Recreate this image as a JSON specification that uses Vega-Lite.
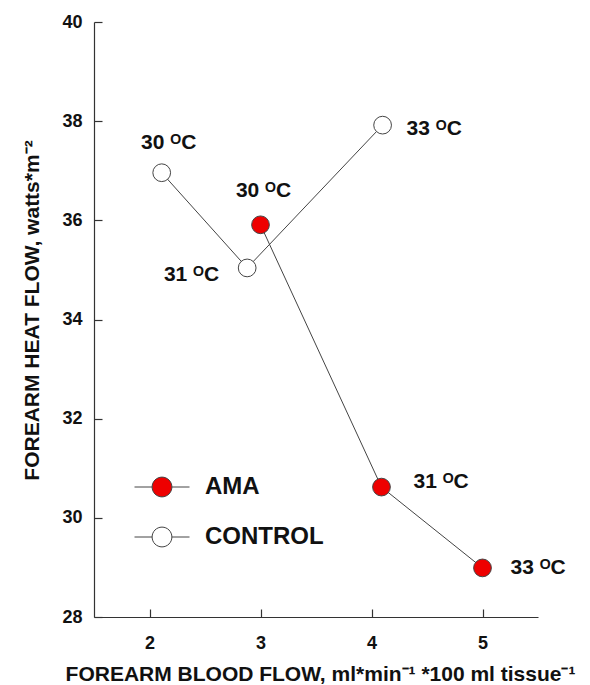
{
  "$schema": "https://vega.github.io/schema/vega-lite/v6.json",
  "width": 444,
  "height": 595,
  "autosize": {"type": "none"},
  "padding": {"left": 94, "top": 22, "right": 52, "bottom": 68},
  "background": "white",
  "config": {
    "view": {"stroke": null},
    "font": "Liberation Sans",
    "axis": {"grid": false, "domainColor": "#333", "tickColor": "#333", "labelColor": "#111", "titleColor": "#111", "labelFontWeight": "bold", "titleFontWeight": "bold", "labelFontSize": 18, "titleFontSize": 21, "tickSize": -8, "domainWidth": 1.2, "tickWidth": 1.2}
  },
  "data": {
    "values": [
      {"group": "CONTROL", "x": 2.11, "y": 36.96, "label": "30 ᴼC", "id": "c30"},
      {"group": "CONTROL", "x": 2.88, "y": 35.04, "label": "31 ᴼC", "id": "c31"},
      {"group": "CONTROL", "x": 4.1, "y": 37.92, "label": "33 ᴼC", "id": "c33"},
      {"group": "AMA", "x": 3.0, "y": 35.91, "label": "30 ᴼC", "id": "a30"},
      {"group": "AMA", "x": 4.09, "y": 30.62, "label": "31 ᴼC", "id": "a31"},
      {"group": "AMA", "x": 5.0, "y": 28.99, "label": "33 ᴼC", "id": "a33"}
    ]
  },
  "encoding": {
    "x": {"field": "x", "type": "quantitative", "scale": {"domain": [1.5, 5.5], "nice": false, "zero": false},
      "axis": {"values": [2, 3, 4, 5], "title": "FOREARM BLOOD FLOW, ml*min⁻¹ *100 ml tissue⁻¹", "labelPadding": 25, "titleX": 226, "titleY": 63, "titleBaseline": "alphabetic", "titleAnchor": "middle"}},
    "y": {"field": "y", "type": "quantitative", "scale": {"domain": [28, 40], "nice": false, "zero": false},
      "axis": {"values": [28, 30, 32, 34, 36, 38, 40], "title": "FOREARM HEAT FLOW, watts*m⁻²", "labelPadding": 20, "titleX": -56, "titleY": 288, "titleBaseline": "alphabetic", "titleAngle": -90, "titleAlign": "center"}}
  },
  "layer": [
    {"mark": {"type": "line", "color": "#444", "strokeWidth": 1}, "encoding": {"detail": {"field": "group"}, "order": {"field": "x"}}},
    {"mark": {"type": "point", "shape": "circle", "filled": true, "size": 314, "stroke": "#444", "strokeWidth": 1, "opacity": 1},
      "encoding": {"fill": {"field": "group", "type": "nominal", "scale": {"domain": ["AMA", "CONTROL"], "range": ["#ee0000", "#ffffff"]},
        "legend": {"orient": "none", "legendX": 40, "legendY": 437, "title": null, "padding": 0, "columns": 1,
          "symbolType": "M -1 0 L -0.36 0 M 0.36 0 L 1 0 M -0.36 0 A 0.36 0.36 0 1 0 0.36 0 A 0.36 0.36 0 1 0 -0.36 0 Z",
          "symbolSize": 3025, "symbolStrokeColor": "#444", "symbolStrokeWidth": 1, "symbolOpacity": 1,
          "labelFont": "Liberation Sans", "labelFontSize": 24, "labelFontWeight": "bold", "labelColor": "#111", "labelOffset": 15, "rowPadding": 10}}}},
    {"transform": [{"filter": "datum.id === 'c30'"}], "mark": {"type": "text", "dx": 7, "dy": -30, "align": "center", "baseline": "middle", "fontSize": 21, "fontWeight": "bold", "color": "#111"}, "encoding": {"text": {"field": "label"}}},
    {"transform": [{"filter": "datum.id === 'a30'"}], "mark": {"type": "text", "dx": 3, "dy": -34, "align": "center", "baseline": "middle", "fontSize": 21, "fontWeight": "bold", "color": "#111"}, "encoding": {"text": {"field": "label"}}},
    {"transform": [{"filter": "datum.id === 'c31'"}], "mark": {"type": "text", "dx": -28, "dy": 7, "align": "right", "baseline": "middle", "fontSize": 21, "fontWeight": "bold", "color": "#111"}, "encoding": {"text": {"field": "label"}}},
    {"transform": [{"filter": "datum.id === 'c33'"}], "mark": {"type": "text", "dx": 24, "dy": 4, "align": "left", "baseline": "middle", "fontSize": 21, "fontWeight": "bold", "color": "#111"}, "encoding": {"text": {"field": "label"}}},
    {"transform": [{"filter": "datum.id === 'a31'"}], "mark": {"type": "text", "dx": 32, "dy": -5, "align": "left", "baseline": "middle", "fontSize": 21, "fontWeight": "bold", "color": "#111"}, "encoding": {"text": {"field": "label"}}},
    {"transform": [{"filter": "datum.id === 'a33'"}], "mark": {"type": "text", "dx": 28, "dy": 0, "align": "left", "baseline": "middle", "fontSize": 21, "fontWeight": "bold", "color": "#111"}, "encoding": {"text": {"field": "label"}}}
  ]
}
